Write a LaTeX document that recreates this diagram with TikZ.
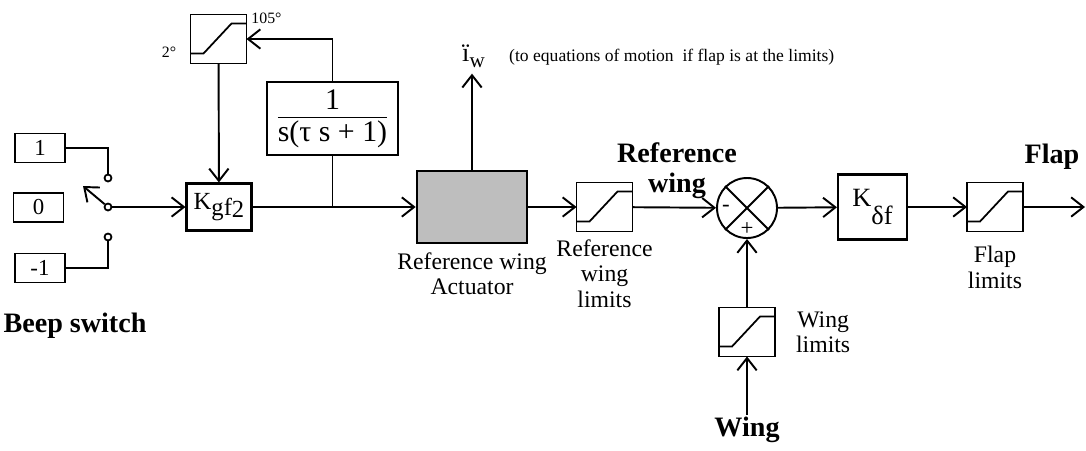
\documentclass[tikz,border=0pt]{standalone}
\usepackage{fontspec}
\setmainfont{Liberation Serif}
\usepackage{tikz}
\usepackage{xcolor}
\usetikzlibrary{arrows.meta, positioning, calc}
\definecolor{ActGray}{HTML}{BEBEBE}
\tikzset{
    % Box styles
    block/.style={
        rectangle,
        draw,
        line width=1.2pt,
        minimum width=1.3cm,
        minimum height=0.94cm,
        align=center,
        inner sep=1pt,
        font=\fontsize{14}{16}\selectfont
    },
    limiter/.style={
        rectangle,
        draw,
        line width=1.1pt,
        outer sep=0pt,
        minimum width=1.12cm,
        minimum height=0.98cm
    },
    levelbox/.style={
        rectangle,
        draw,
        line width=1.1pt,
        minimum width=1.0cm,
        minimum height=0.58cm,
        inner sep=1pt,
        font=\fontsize{13}{15}\selectfont
    },
    actuator/.style={
        rectangle,
        draw,
        fill=ActGray,
        line width=1.5pt,
        minimum width=2.2cm,
        minimum height=1.44cm
    },
    summer/.style={
        circle,
        draw,
        line width=1.1pt,
        minimum size=1.2cm,
        inner sep=0pt
    },
    contact/.style={
        circle,
        draw,
        fill=white,
        line width=1pt,
        minimum size=0.14cm,
        inner sep=0pt
    },
    % Text styles
    note/.style={
        align=center,
        inner sep=1pt,
        font=\fontsize{13.5}{14.5}\selectfont
    },
    heading/.style={
        align=center,
        inner sep=1pt,
        font=\fontsize{16}{17}\selectfont\bfseries
    },
    % Arrow styles
    arrow/.style={
        -{Straight Barb[length=7pt,width=11pt]},
        line width=1.1pt
    },
    wire/.style={
        line width=1.1pt
    }
}
% saturation curve inside a limiter box
\newcommand{\satglyph}[1]{%
    \draw[line width=1pt] ($(#1.south west)+(0,0.2)$) -- ($(#1.south west)+(0.26,0.2)$)
        -- ($(#1.north east)+(-0.3,-0.18)$) -- ($(#1.north east)+(0,-0.18)$);}

\begin{document}
\begin{tikzpicture}
    \useasboundingbox (0,0) rectangle (21.72,-9);

    % Beep switch
    \node[levelbox] (one) at (0.8,-2.96) {1};
    \node[levelbox] (zero) at (0.77,-4.15) {0};
    \node[levelbox] (mone) at (0.8,-5.36) {-1};
    \node[contact] (ctop) at (2.16,-3.56) {};
    \node[contact] (pivot) at (2.16,-4.14) {};
    \node[contact] (cbot) at (2.16,-4.74) {};
    \coordinate (arm) at (1.66,-3.72);
    \draw[wire] (one.east) -| (ctop.north);
    \draw[wire] (mone.east) -| (cbot.south);
    \draw[arrow] (pivot) -- (arm);
    \node[heading] (beep) at (1.5,-6.52) {Beep switch};

    % Gain with limited integrator feedback
    \node[block] (kgf) at (4.38,-4.14) {K\raisebox{-0.5ex}{gf\raisebox{-0.2ex}{2}}};
    \draw[arrow] (pivot) -- (kgf);
    \node[limiter] (sat) at (4.37,-0.78) {};
    \satglyph{sat}
    \node[font=\fontsize{9}{10}\selectfont] (upper) at (5.33,-0.36) {105°};
    \node[font=\fontsize{9}{10}\selectfont] (lower) at (3.38,-1.04) {2°};
    \node[block, minimum width=2.62cm, minimum height=1.46cm, font=\fontsize{17}{19}\selectfont]
        (tf) at (6.65,-2.37) {\begin{tabular}{@{}c@{}}1\\[-1pt]\hline s(τ s + 1)\end{tabular}};
    \node[actuator] (act) at (9.44,-4.14) {};
    \coordinate (tap) at (tf.south |- kgf.east);
    \draw[arrow] (kgf) -- (act);
    \draw[wire] (tf.south) -- (tap);
    \draw[arrow] (tf.north) |- (sat.east);
    \draw[arrow] (sat) -- (kgf);
    \node[note, below=0.12cm of act] (actlbl) {Reference wing\\Actuator};

    % Acceleration output
    \node[font=\fontsize{15}{16}\selectfont] (iw) at (9.47,-1.12) {ï\raisebox{-0.5ex}{\fontsize{12}{13}\selectfont w}};
    \node[anchor=west, font=\fontsize{10}{12}\selectfont] (eqn) at (10.06,-1.14)
        {(to equations of motion\ \ if flap is at the limits)};
    \draw[arrow] (act.north) -- (act.north |- iw.south);

    % Reference wing limits and comparison
    \node[limiter] (rwl) at (12.09,-4.14) {};
    \satglyph{rwl}
    \draw[arrow] (act) -- (rwl);
    \node[note, below=0.12cm of rwl] (rwllbl) {Reference\\wing\\limits};
    \node[summer] (sum) at (14.94,-4.16) {};
    \draw[line width=1.1pt] (sum.north west) -- (sum.south east);
    \draw[line width=1.1pt] (sum.north east) -- (sum.south west);
    \node[font=\fontsize{13}{15}\selectfont] (minus) at ($(sum.center)+(-0.42,0)$) {-};
    \node[font=\fontsize{13}{15}\selectfont] (plus) at ($(sum.center)+(0,-0.42)$) {+};
    \draw[arrow] (rwl) -- (sum);
    \node[heading] (refwing) at (13.54,-3.42) {Reference\\wing};

    % Wing input
    \node[limiter] (wl) at (14.94,-6.64) {};
    \satglyph{wl}
    \node[note, right=0.38cm of wl] (wllbl) {Wing\\limits};
    \node[heading] (wing) at (14.94,-8.6) {Wing};
    \draw[arrow] (wing) -- (wl);
    \draw[arrow] (wl) -- (sum);

    % Flap command
    \node[block, minimum width=1.38cm, minimum height=1.3cm, font=\fontsize{15}{17}\selectfont]
        (kdf) at (17.45,-4.14) {K\raisebox{-1.5ex}{δf}};
    \node[limiter] (fl) at (19.9,-4.14) {};
    \satglyph{fl}
    \coordinate (out) at (21.7,-4.14);
    \draw[arrow] (sum) -- (kdf);
    \draw[arrow] (kdf) -- (fl);
    \draw[arrow] (fl) -- (out);
    \node[heading] (flap) at (21.04,-3.14) {Flap};
    \node[note, below=0.25cm of fl] (fllbl) {Flap\\limits};
\end{tikzpicture}
\end{document}
